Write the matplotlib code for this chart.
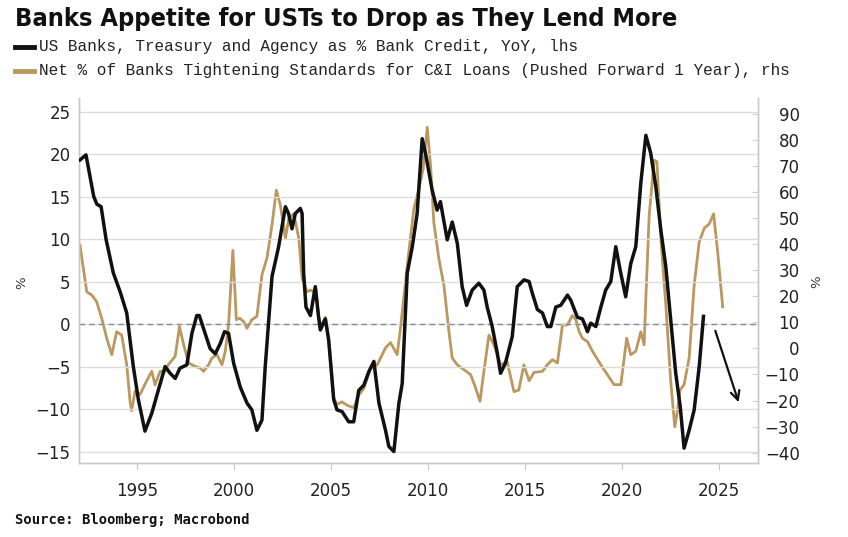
import matplotlib
matplotlib.use("Agg")
import matplotlib.pyplot as plt
from matplotlib import font_manager as fm
from matplotlib.ticker import FixedLocator

# ---------------- data ----------------
ust_years = [1992.05, 1992.36, 1992.76, 1992.92, 1993.14, 1993.40, 1993.77, 1994.12, 1994.46, 1994.80,
             1995.06, 1995.40, 1995.75, 1996.10, 1996.44, 1996.70, 1996.96, 1997.20, 1997.56, 1997.82,
             1998.07, 1998.20, 1998.50, 1998.76, 1999.02, 1999.28, 1999.50, 1999.71, 1999.97, 2000.31,
             2000.66, 2000.91, 2001.17, 2001.43, 2001.60, 2001.95, 2002.29, 2002.64, 2002.80, 2002.98,
             2003.15, 2003.41, 2003.50, 2003.58, 2003.70, 2003.93, 2004.18, 2004.35, 2004.44, 2004.70,
             2004.87, 2005.13, 2005.30, 2005.56, 2005.90, 2006.16, 2006.42, 2006.68, 2006.94, 2007.20,
             2007.46, 2007.80, 2007.97, 2008.23, 2008.49, 2008.66, 2008.92, 2009.18, 2009.43, 2009.69,
             2009.86, 2010.20, 2010.46, 2010.63, 2010.98, 2011.24, 2011.50, 2011.75, 2011.98, 2012.27,
             2012.61, 2012.87, 2013.04, 2013.30, 2013.56, 2013.73, 2013.98, 2014.33, 2014.59, 2014.94,
             2015.20, 2015.37, 2015.63, 2015.89, 2016.14, 2016.32, 2016.58, 2016.83, 2017.18, 2017.35,
             2017.69, 2017.95, 2018.21, 2018.38, 2018.64, 2018.90, 2019.15, 2019.41, 2019.67, 2019.89,
             2020.18, 2020.44, 2020.70, 2020.96, 2021.22, 2021.47, 2021.73, 2021.99, 2022.25, 2022.50,
             2022.76, 2022.99, 2023.19, 2023.45, 2023.71, 2023.97, 2024.19]
ust_values = [19.3, 19.9, 15.0, 14.1, 13.8, 9.9, 6.0, 3.8, 1.3, -5.0,
              -8.9, -12.6, -10.5, -7.7, -5.0, -5.8, -6.4, -5.2, -4.8, -1.1,
              1.0, 1.0, -1.1, -2.9, -3.5, -2.3, -0.9, -1.1, -4.6, -7.4,
              -9.3, -10.1, -12.5, -11.3, -5.0, 5.6, 9.1, 13.8, 13.0, 11.2,
              13.0, 13.6, 13.0, 6.0, 2.0, 1.0, 4.4, 0.8, -0.7, 0.6,
              -1.9, -8.9, -10.1, -10.3, -11.5, -11.5, -7.8, -7.2, -5.6, -4.4,
              -9.3, -12.5, -14.4, -15.0, -9.3, -7.0, 6.0, 9.1, 13.0, 21.8,
              20.1, 15.8, 13.4, 14.4, 9.9, 12.0, 9.5, 4.4, 2.2, 4.0,
              4.8, 4.0, 2.0, -0.3, -3.4, -5.8, -4.6, -1.5, 4.4, 5.2,
              5.0, 3.6, 1.7, 1.3, -0.3, -0.3, 2.0, 2.2, 3.4, 2.8,
              0.8, 0.6, -0.9, 0.1, -0.3, 2.0, 4.0, 5.0, 9.1, 6.4,
              3.2, 7.1, 9.1, 16.6, 22.2, 20.1, 16.2, 11.1, 6.7, 0.5,
              -5.8, -9.7, -14.6, -12.5, -10.1, -5.0, 0.9]

ci_years = [1992.05, 1992.40, 1992.65, 1992.91, 1993.17, 1993.43, 1993.69, 1993.94, 1994.20, 1994.46,
            1994.63, 1994.71, 1994.89, 1995.15, 1995.49, 1995.75, 1995.92, 1996.18, 1996.44, 1996.60,
            1996.96, 1997.18, 1997.39, 1997.65, 1997.99, 1998.25, 1998.42, 1998.68, 1998.85, 1999.11,
            1999.28, 1999.37, 1999.54, 1999.71, 1999.93, 2000.11, 2000.28, 2000.48, 2000.66, 2000.91,
            2001.17, 2001.43, 2001.69, 2001.95, 2002.17, 2002.38, 2002.64, 2002.81, 2003.07, 2003.33,
            2003.50, 2003.75, 2003.93, 2004.10, 2004.20, 2004.35, 2004.46, 2004.70, 2004.87, 2005.13,
            2005.30, 2005.56, 2005.82, 2006.16, 2006.42, 2006.68, 2007.03, 2007.37, 2007.80, 2008.06,
            2008.40, 2008.57, 2008.92, 2009.26, 2009.52, 2009.74, 2009.95, 2010.12, 2010.29, 2010.55,
            2010.81, 2011.07, 2011.24, 2011.50, 2011.85, 2012.19, 2012.45, 2012.67, 2012.87, 2013.13,
            2013.39, 2013.73, 2014.07, 2014.42, 2014.67, 2014.93, 2015.20, 2015.46, 2015.89, 2016.14,
            2016.40, 2016.66, 2016.92, 2017.18, 2017.43, 2017.61, 2017.78, 2017.95, 2018.21, 2018.47,
            2018.90, 2019.24, 2019.58, 2019.93, 2020.23, 2020.44, 2020.70, 2020.96, 2021.13, 2021.22,
            2021.39, 2021.65, 2021.79, 2021.99, 2022.25, 2022.50, 2022.71, 2022.84, 2022.98, 2023.19,
            2023.45, 2023.71, 2023.97, 2024.23, 2024.49, 2024.71, 2024.92, 2025.18]
ci_values = [39.6, 21.7, 20.5, 17.9, 11.6, 3.9, -2.4, 6.4, 5.1, -6.3,
             -20.2, -23.9, -16.4, -17.6, -12.4, -8.8, -14.0, -8.8, -8.8, -6.3,
             -3.0, 8.4, 1.5, -5.6, -6.9, -7.5, -8.8, -6.3, -3.7, -2.4,
             -5.0, -6.3, -1.1, 9.0, 37.6, 11.0, 11.6, 10.3, 7.7, 11.0,
             12.3, 28.2, 34.7, 47.4, 60.7, 54.9, 42.2, 49.7, 51.7, 42.2,
             26.9, 21.7, 22.4, 21.7, 23.5, 12.6, 8.5, 11.9, 3.8, -19.0,
             -21.5, -20.5, -21.8, -22.8, -17.9, -15.4, -7.6, -6.3, 0.2, 2.2,
             -2.4, 7.7, 31.8, 53.5, 61.2, 68.9, 84.8, 70.2, 48.3, 34.4,
             24.2, 6.4, -3.7, -6.3, -8.2, -10.1, -15.3, -20.3, -8.8, 5.1,
             1.3, -6.3, -5.0, -16.6, -16.0, -6.3, -12.4, -9.2, -8.8, -6.3,
             -4.3, -5.6, 9.0, 9.0, 12.6, 11.0, 6.4, 3.9, 2.6, -1.1,
             -6.3, -10.1, -13.9, -13.9, 3.9, -2.4, -1.1, 6.4, 1.4, 19.4,
             51.0, 72.2, 71.6, 42.2, 16.5, -12.4, -30.1, -24.3, -16.0, -13.9,
             -3.7, 24.2, 40.9, 46.1, 47.8, 51.6, 37.1, 15.9]

left_ticks = [-15, -10, -5, 0, 5, 10, 15, 20, 25]
right_ticks = [-40, -30, -20, -10, 0, 10, 20, 30, 40, 50, 60, 70, 80, 90]
x_ticks = [1995, 2000, 2005, 2010, 2015, 2020, 2025]

title_text = "Banks Appetite for USTs to Drop as They Lend More"
label_ust = "US Banks, Treasury and Agency as % Bank Credit, YoY, lhs"
label_ci = "Net % of Banks Tightening Standards for C&I Loans (Pushed Forward 1 Year), rhs"
source_text = "Source: Bloomberg; Macrobond"

# ---------------- style ----------------
BLACK = "#111111"
GOLD = "#BA985F"
GRID = "#dcdcdc"
SPINE = "#c8c8c8"
TXT = "#222222"

def find_font(keys_all, bold=True):
    for f in fm.fontManager.ttflist:
        n = f.fname.lower()
        if all(k in n for k in keys_all):
            if bold and "bold" not in n:
                continue
            if "oblique" in n or "italic" in n:
                continue
            return f.fname
    return None

cond_bold = (find_font(["liberationsansnarrow"], True) or find_font(["condensed", "dejavusans"], True)
             or find_font(["condensed"], True))

fig = plt.figure(figsize=(8.48, 5.37), dpi=100)
fig.patch.set_facecolor("white")

ax = fig.add_axes([79 / 848, 1 - 463 / 537, (758 - 79) / 848, (463 - 98) / 537])
ax2 = ax.twinx()

L0, L1 = -16.35, 26.59
A, B = 9.35, 3.26
ax.set_ylim(L0, L1)
ax2.set_ylim(A + B * L0, A + B * L1)
ax.set_xlim(1992.0, 2027.0)

ax.yaxis.set_major_locator(FixedLocator(left_ticks))
ax2.yaxis.set_major_locator(FixedLocator(right_ticks))
ax.xaxis.set_major_locator(FixedLocator(x_ticks))

ax.grid(axis="y", color=GRID, lw=1.0)
ax.set_axisbelow(True)
ax.axhline(0, color="#8a8a8a", lw=1.0, ls=(0, (4, 3)), zorder=1)

ax2.plot(ci_years, ci_values, color=GOLD, lw=2.0, zorder=2, solid_joinstyle="round")
ax.set_zorder(ax2.get_zorder() + 1)
ax.patch.set_visible(False)
ax.plot(ust_years, ust_values, color=BLACK, lw=2.5, zorder=3, solid_joinstyle="round")

for a in (ax, ax2):
    a.spines["top"].set_visible(False)
    for s in ("left", "right", "bottom"):
        a.spines[s].set_color(SPINE)
        a.spines[s].set_linewidth(1.0)

ax.tick_params(axis="y", length=0, labelsize=12, labelcolor=TXT, pad=6)
ax2.tick_params(axis="y", length=4, direction="in", color="#d0d0d0", labelsize=12, labelcolor=TXT, pad=30)
ax.tick_params(axis="x", length=5, direction="out", color=SPINE, labelsize=12, labelcolor=TXT, pad=9)

for lbl in ax.get_yticklabels() + ax2.get_yticklabels() + ax.get_xticklabels():
    lbl.set_family("DejaVu Sans")
for lbl in ax2.get_yticklabels():
    lbl.set_horizontalalignment("right")

# % labels
fig.text(22 / 848, 1 - 283 / 537, "%", rotation=90, ha="center", va="center", fontsize=9.5, color="#333333")
fig.text(817 / 848, 1 - 282 / 537, "%", rotation=90, ha="center", va="center", fontsize=9.5, color="#333333")

# arrow annotation
ax.annotate("", xy=(2026.0, -9.2), xytext=(2024.8, -0.8),
            arrowprops=dict(arrowstyle="->", color=BLACK, lw=1.6, mutation_scale=16,
                            shrinkA=0, shrinkB=0))

# title
if cond_bold:
    tp = fm.FontProperties(fname=cond_bold, size=18.2)
else:
    tp = fm.FontProperties(family="DejaVu Sans", weight="bold", size=14)
fig.text(15 / 848, 1 - 19 / 537, title_text, fontproperties=tp, ha="left", va="center", color="#111111")

# legend
mono = "Liberation Mono"
for yy, col, lab in ((47, BLACK, label_ust), (71, GOLD, label_ci)):
    fig.add_artist(plt.Line2D([15 / 848, 34 / 848], [1 - yy / 537, 1 - yy / 537], color=col, lw=3.5,
                              transform=fig.transFigure))
    fig.text(39 / 848, 1 - yy / 537, lab, family=mono, fontsize=11.6, ha="left", va="center", color="#222222")

fig.text(15 / 848, 1 - 520 / 537, source_text, family="DejaVu Sans Mono", weight="bold", fontsize=10,
         ha="left", va="center", color="#111111")

fig.savefig("out.png", dpi=100, facecolor="white")
